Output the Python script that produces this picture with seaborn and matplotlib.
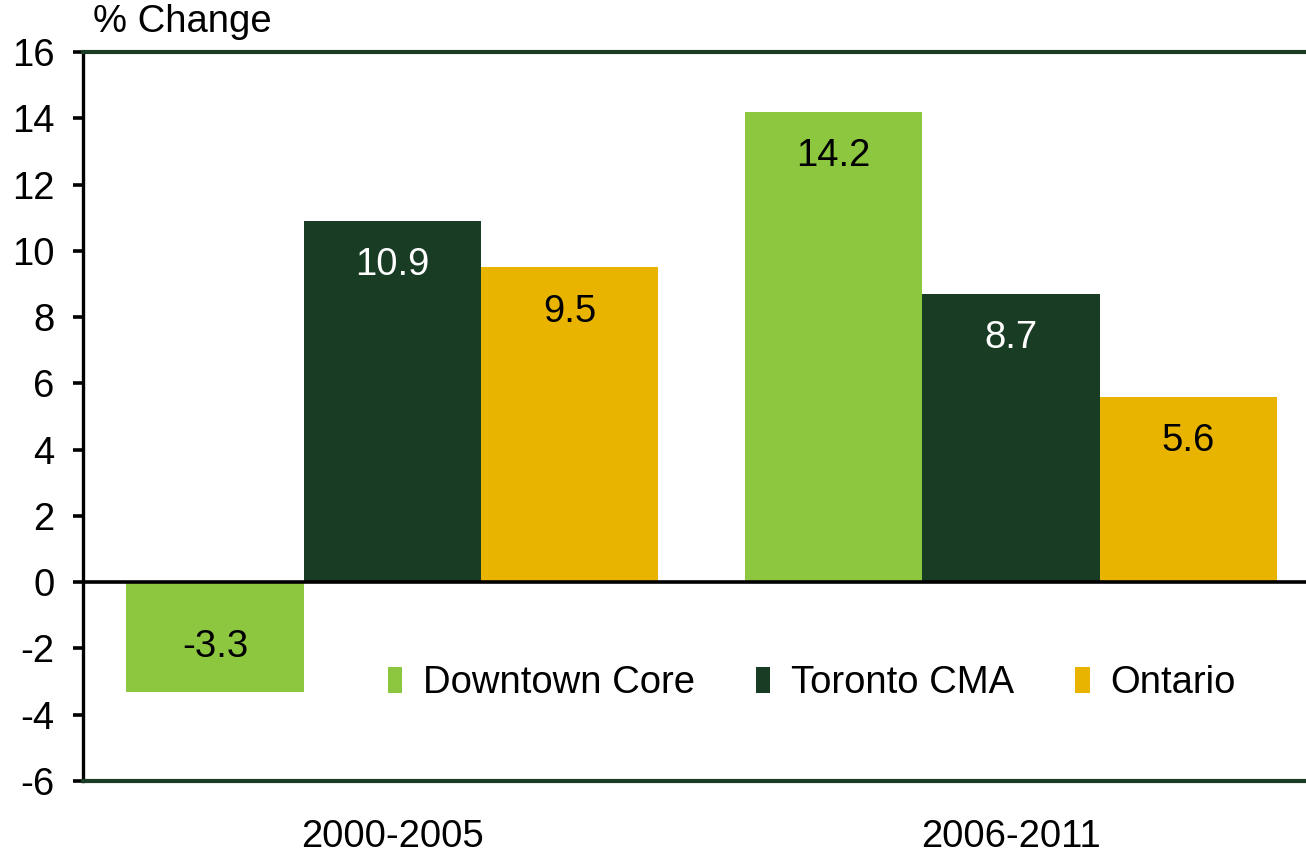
import pandas as pd
import matplotlib.pyplot as plt
import seaborn as sns

# Datos del grafico
periodos = ['2000-2005', '2006-2011']
regiones = ['Downtown Core', 'Toronto CMA', 'Ontario']
downtown_core = [-3.3, 14.2]
toronto_cma = [10.9, 8.7]
ontario = [9.5, 5.6]
colores = ['#8DC63F', '#193D24', '#E8B400']
colores_texto = ['black', 'white', 'black']

df = pd.DataFrame({
    'periodo': periodos * 3,
    'region': [r for r in regiones for _ in periodos],
    'valor': downtown_core + toronto_cma + ontario,
})

sns.set_style('white')
plt.rcParams['font.family'] = ['Liberation Sans', 'DejaVu Sans']
plt.rcParams['axes.unicode_minus'] = False
plt.rcParams['text.color'] = 'black'
plt.rcParams['xtick.color'] = 'black'
plt.rcParams['ytick.color'] = 'black'
plt.rcParams['ytick.left'] = True
plt.rcParams['ytick.direction'] = 'out'
plt.rcParams['ytick.major.size'] = 7.5
plt.rcParams['ytick.major.width'] = 2.6

tam = 27.5

fig = plt.figure(figsize=(13.06, 8.55), dpi=100)
ax = fig.add_axes([83 / 1306, 74 / 855, 1223 / 1306, 729 / 855])

sns.barplot(data=df, x='periodo', y='valor', hue='region', hue_order=regiones,
            palette=colores, width=0.86, saturation=1, legend=False,
            linewidth=0, ax=ax)

ax.set_xlim(-0.5, 1.477)
ax.set_ylim(-6, 16)
ax.set_yticks(range(-6, 17, 2))
ax.set_xlabel('')
ax.set_ylabel('')

# Etiquetas dentro de las barras
for cont, col in zip(ax.containers, colores_texto):
    for barra in cont:
        h = barra.get_height()
        x = barra.get_x() + barra.get_width() / 2
        signo = 1 if h >= 0 else -1
        ax.annotate(f'{h:.1f}', xy=(x, h), xytext=(0, -signo * 32),
                    textcoords='offset points', ha='center', va='center',
                    fontsize=tam, color=col)

ax.axhline(0, color='black', linewidth=2.6, zorder=5)

for lado in ['top', 'bottom']:
    ax.spines[lado].set_color('#193D24')
    ax.spines[lado].set_linewidth(3)
ax.spines['right'].set_visible(False)
ax.spines['left'].set_color('black')
ax.spines['left'].set_linewidth(2.4)

ax.tick_params(axis='y', which='major', direction='out', length=7.5, width=2.6,
               color='black', labelsize=tam, labelcolor='black', pad=13,
               left=True, labelleft=True)
ax.tick_params(axis='x', length=0, labelsize=tam, labelcolor='black', pad=27)

ax.legend(handles=ax.containers, labels=regiones, loc='center',
          bbox_to_anchor=(0.596, 0.134), ncol=3, frameon=False, fontsize=tam,
          handlelength=0.37, handleheight=0.66, handletextpad=0.55,
          columnspacing=1.6)

fig.text(93 / 1306, 1 - 22 / 855, '% Change', ha='left', va='center', fontsize=tam)

fig.savefig('out.png', dpi=100)
plt.close()
